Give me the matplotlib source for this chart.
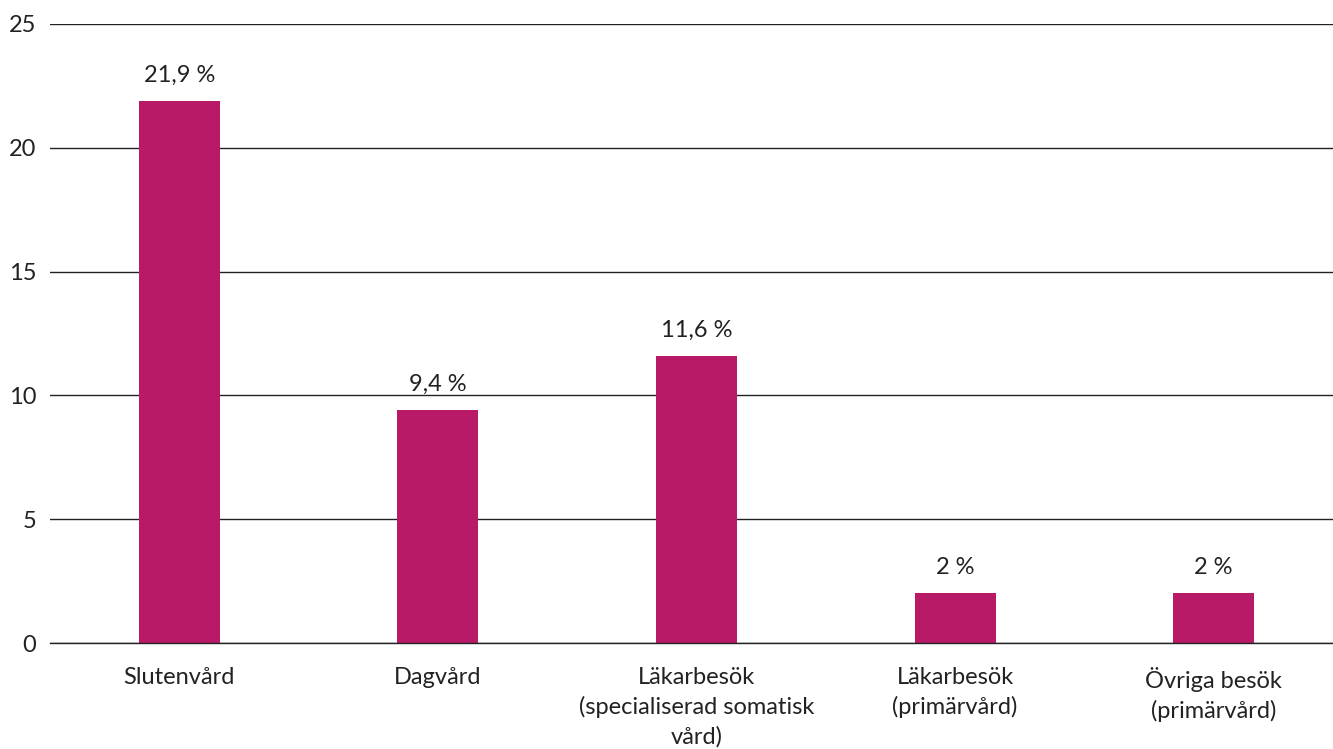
import matplotlib
matplotlib.use("Agg")
import matplotlib.pyplot as plt

categories = ["Slutenvård", "Dagvård", "Läkarbesök\n(specialiserad somatisk\nvård)",
              "Läkarbesök\n(primärvård)", "Övriga besök\n(primärvård)"]
values = [21.9, 9.4, 11.6, 2.0, 2.0]
value_labels = ["21,9 %", "9,4 %", "11,6 %", "2 %", "2 %"]
yticks = [0, 5, 10, 15, 20, 25]

plt.rcParams['font.family'] = ['Lato', 'DejaVu Sans']
text_color = "#222222"
bar_color = "#B81A68"

fig = plt.figure(figsize=(13.33, 7.49), dpi=100)
ax = fig.add_axes([50/1333, 1-643/749, (1343-50)/1333, (643-24)/749])

x = list(range(len(categories)))
bars = ax.bar(x, values, width=0.313, color=bar_color, zorder=3)
ax.set_xlim(-0.5, len(categories) - 0.5)
ax.set_ylim(0, 25)
ax.set_yticks(yticks)
ax.set_yticklabels([str(t) for t in yticks])
ax.yaxis.grid(True, color="#222222", linewidth=1.0, zorder=0)
ax.set_axisbelow(True)
ax.set_xticks(x)
ax.set_xticklabels(categories, linespacing=1.45)
ax.tick_params(axis='both', length=0, labelsize=17, labelcolor=text_color)
ax.tick_params(axis='y', pad=10)
ax.tick_params(axis='x', pad=17)
for name, s in ax.spines.items():
    s.set_visible(name == "bottom")
ax.spines["bottom"].set_color("#222222")
ax.spines["bottom"].set_linewidth(1.0)
ax.spines["bottom"].set_zorder(4)

for xi, v, lab in zip(x, values, value_labels):
    ax.annotate(lab, (xi, v), xytext=(0, 11), textcoords="offset points",
                ha="center", va="bottom", fontsize=17, color=text_color)

fig.savefig("out.png", dpi=100)
